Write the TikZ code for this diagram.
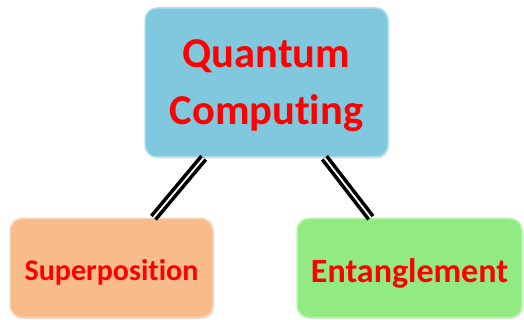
\documentclass[tikz,border=0pt]{standalone}
\usepackage{fontspec}
\setmainfont{Carlito}[Ligatures=CommonOff]
\usetikzlibrary{shadows}
\definecolor{qblue}{RGB}{128,200,222}
\definecolor{qblueedge}{RGB}{170,225,240}
\definecolor{sorange}{RGB}{248,188,140}
\definecolor{sorangeedge}{RGB}{252,214,180}
\definecolor{egreen}{RGB}{146,234,130}
\definecolor{egreenedge}{RGB}{185,245,170}
\definecolor{labelred}{RGB}{255,0,0}
\tikzset{
  topicbox/.style={rectangle, rounded corners=12pt, line width=1.5pt,
    inner sep=0pt, font=\bfseries, text=labelred, align=center,
    drop shadow={shadow xshift=1pt, shadow yshift=-1.5pt, opacity=0.25}},
  link/.style={draw=black, line width=3.6pt, double=white, double distance=1.8pt}
}
\begin{document}
\begin{tikzpicture}[x=1pt,y=-1pt]
  \useasboundingbox (0,0) rectangle (524,320);
  % main topic
  \node[topicbox, fill=qblue, draw=qblueedge, minimum width=243pt, minimum height=149pt,
        font=\bfseries\fontsize{42.5}{57}\selectfont, text height=95pt, text depth=10pt]
    (top) at (266.5,82.5) {Quantum\\Computing};
  % sub-topics
  \node[topicbox, fill=sorange, draw=sorangeedge, minimum width=203pt, minimum height=99pt,
        font=\bfseries\fontsize{30}{34}\selectfont, text height=30pt, text depth=6pt]
    (sup) at (111.5,268) {Superposition};
  \node[topicbox, fill=egreen, draw=egreenedge, minimum width=225pt, minimum height=99pt,
        font=\bfseries\fontsize{34}{38}\selectfont, text height=34pt, text depth=6pt]
    (ent) at (409.5,268) {Entanglement};
  % double connectors
  \draw[link] (top) -- (sup);
  \draw[link] (top) -- (ent);
\end{tikzpicture}
\end{document}
